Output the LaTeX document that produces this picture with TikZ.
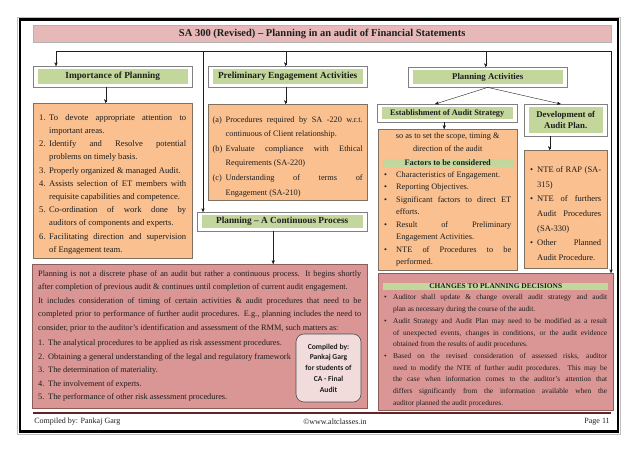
\documentclass[tikz,border=0pt]{standalone}
\usepackage{fontspec}
\setmainfont{Liberation Serif}
\newfontfamily\cmpfont{Carlito}
\usepackage{xcolor}
\usetikzlibrary{arrows}
\usetikzlibrary{calc}
\usetikzlibrary{positioning}

\definecolor{ordfill}{HTML}{FAC090}
\definecolor{orddraw}{HTML}{7F7060}
\definecolor{pinkfill}{HTML}{D99694}
\definecolor{pinkdraw}{HTML}{8C5C5B}
\definecolor{titlefill}{HTML}{E6B9B8}
\definecolor{hgreen}{HTML}{C3D69B}
\definecolor{hdrdraw}{HTML}{808080}
\definecolor{cmpfill}{HTML}{F2DCDB}
\definecolor{footrule}{HTML}{632523}
\definecolor{ink}{HTML}{1E1E1E}

\newlength{\itmind}
\newcommand{\itm}[2]{\par\noindent\hangindent=\itmind\hangafter=1\makebox[\itmind][l]{#1}#2}
\newcommand{\gbar}[2]{\par\noindent\makebox[\linewidth][c]{\setlength{\fboxsep}{1.5pt}\colorbox{hgreen}{\parbox{#1}{\centering\bfseries #2}}}\par}

\begin{document}
\begin{tikzpicture}[x=1pt,y=-1pt,>=stealth',semithick,text=ink]
	\tikzstyle{hdr}=[draw=hdrdraw, fill=white, thin, inner sep=0pt, font=\bfseries\fontsize{9.3}{11}\selectfont,
		path picture={\fill[hgreen] ([shift={(4.5pt,-3pt)}]path picture bounding box.north west) rectangle ([shift={(-4.5pt,3pt)}]path picture bounding box.south east);}]
	\tikzstyle{ttlbar}=[draw=hdrdraw!60, fill=titlefill, thin, inner sep=0pt, font=\bfseries\fontsize{10.5}{12}\selectfont]
	\tikzstyle{ordbox}=[draw=orddraw, fill=ordfill, thin, inner xsep=6pt, align=justify, anchor=north west]
	\tikzstyle{pinkbox}=[draw=pinkdraw, fill=pinkfill, thin, inner xsep=6pt, align=justify, anchor=north west]
	\tikzstyle{conn}=[->, draw=ink, thin]
	\useasboundingbox (0,0) rectangle (638,451);

	% frame
	\draw[gray!50, thin] (17.5,17) rectangle (620.5,434);
	\draw[line width=2.5pt] (20,19.5) rectangle (618,431.5);

	\node[ttlbar, minimum width=578, minimum height=17, anchor=north west] (ttl) at (33,25)
		{SA 300 (Revised) – Planning in an audit of Financial Statements};

	% left column
	\node[hdr, minimum width=159, minimum height=21, anchor=north west] (imp) at (33,66) {Importance of Planning};
	\node[ordbox, text width=147, minimum height=155, font=\fontsize{8.6}{13.2}\selectfont] (ord1) at (33,103) {%
		\setlength{\itmind}{10pt}%
		\itm{1.}{To devote appropriate attention to\linebreak important areas.}
		\itm{2.}{Identify and Resolve potential\linebreak problems on timely basis.}
		\itm{3.}{Properly organized \& managed Audit.}
		\itm{4.}{Assists selection of ET members with\linebreak requisite capabilities and competence.}
		\itm{5.}{Co-ordination of work done by\linebreak auditors of components and experts.}
		\itm{6.}{Facilitating direction and supervision\linebreak of Engagement team.}\par};

	% middle column
	\node[hdr, minimum width=159, minimum height=21, anchor=north west] (pre) at (208,66) {Preliminary Engagement Activities};
	\node[ordbox, text width=150, inner xsep=4.5pt, minimum height=93, font=\fontsize{8.3}{14.6}\selectfont] (ord2) at (208,104) {%
		\setlength{\itmind}{13pt}%
		\itm{(a)}{Procedures required by SA -220 w.r.t.\linebreak continuous of Client relationship.}
		\itm{(b)}{Evaluate compliance with Ethical\linebreak Requirements (SA-220)}
		\itm{(c)}{Understanding of terms of\linebreak Engagement (SA-210)}\par};
	\node[hdr, minimum width=170, minimum height=19, anchor=north west] (cnt) at (197,212) {Planning – A Continuous Process};

	% right column
	\node[hdr, minimum width=159, minimum height=20, font=\bfseries\fontsize{8.8}{11}\selectfont, anchor=north west] (pla) at (408,67) {Planning Activities};
	\node[hdr, minimum width=140, minimum height=18, font=\bfseries\fontsize{8.3}{10}\selectfont, anchor=north west] (est) at (377,104) {Establishment of Audit Strategy};
	\node[hdr, minimum width=83, minimum height=32, align=center, font=\bfseries\fontsize{8.8}{11}\selectfont, anchor=north west] (dev) at (524,104) {Development of\\Audit Plan.};
	\node[ordbox, text width=127, minimum height=141, font=\fontsize{8.3}{12.5}\selectfont] (ord3) at (378,129) {%
		\setlength{\itmind}{12pt}%
		{\centering\baselineskip=13pt so as to set the scope, timing \&\linebreak direction of the audit\par}
		\vspace{1pt}\gbar{127pt}{Factors to be considered}
		\itm{•}{Characteristics of Engagement.}
		\itm{•}{Reporting Objectives.}
		\itm{•}{Significant factors to direct ET\linebreak efforts.}
		\itm{•}{Result of Preliminary\linebreak Engagement Activities.}
		\itm{•}{NTE of Procedures to be\linebreak performed.}\par};
	\node[ordbox, text width=71, minimum height=118, font=\fontsize{8.5}{14.6}\selectfont] (ord4) at (524,150) {%
		\setlength{\itmind}{7pt}%
		\itm{•}{NTE of RAP (SA-\linebreak 315)}
		\itm{•}{NTE of furthers\linebreak Audit Procedures\linebreak (SA-330)}
		\itm{•}{Other Planned\linebreak Audit Procedure.}\par};

	% bottom boxes
	\node[pinkbox, text width=323, minimum height=144, font=\fontsize{8.3}{13.5}\selectfont] (big) at (32,264) {%
		\setlength{\itmind}{10pt}%
		\noindent Planning is not a discrete phase of an audit but rather a continuous process. It begins shortly\linebreak after completion of previous audit \& continues until completion of current audit engagement.\par
		\noindent It includes consideration of timing of certain activities \& audit procedures that need to be\linebreak completed prior to performance of further audit procedures. E.g., planning includes the need to\linebreak consider, prior to the auditor's identification and assessment of the RMM, such matters as:\par
		\vspace{2pt}
		\itm{1.}{The analytical procedures to be applied as risk assessment procedures.}
		\itm{2.}{Obtaining a general understanding of the legal and regulatory framework}
		\itm{3.}{The determination of materiality.}
		\itm{4.}{The involvement of experts.}
		\itm{5.}{The performance of other risk assessment procedures.}\par};
	\node[pinkbox, text width=223, minimum height=135, font=\fontsize{7.4}{11.7}\selectfont] (chg) at (378,273) {%
		\setlength{\itmind}{9pt}%
		\gbar{222pt}{CHANGES TO PLANNING DECISIONS}
		\itm{•}{Auditor shall update \& change overall audit strategy and audit\linebreak plan as necessary during the course of the audit.}
		\itm{•}{Audit Strategy and Audit Plan may need to be modified as a result\linebreak of unexpected events, changes in conditions, or the audit evidence\linebreak obtained from the results of audit procedures.}
		\itm{•}{Based on the revised consideration of assessed risks, auditor\linebreak need to modify the NTE of further audit procedures. This may be\linebreak the case when information comes to the auditor's attention that\linebreak differs significantly from the information available when the\linebreak auditor planned the audit procedures.}\par};
	\node[draw=ink!80, fill=cmpfill, semithick, rounded corners=8pt, minimum width=65, minimum height=68, align=center,
		font=\cmpfont\bfseries\fontsize{7.6}{10.7}\selectfont] (cmp) at (328.5,368)
		{Compiled by:\\Pankaj Garg\\for students of\\CA - Final\\Audit};

	% connectors
	\coordinate (tl) at (56,51);
	\coordinate (tr) at (611,51);
	\coordinate (tv) at (203,51);
	\draw[conn, -] (tl) -- (tr);
	\draw[conn] (tl) -- (tl |- imp.north);
	\draw[conn] (tv) -- (tv |- cnt.north);
	\draw[conn] (tr) -- (tr |- chg.north);
	\draw[conn] ([xshift=-2]pre.north |- tl) -- ([xshift=-2]pre.north);
	\draw[conn] ([xshift=-2]pla.north |- tl) -- ([xshift=-2]pla.north);
	\draw[conn] ([xshift=-7]imp.south) -- ([xshift=-7]imp.south |- ord1.north);
	\draw[conn] ([xshift=-2]pre.south) -- ([xshift=-2]pre.south |- ord2.north);
	\draw[conn] (pla.south) -- ([xshift=-12]est.north);
	\draw[conn] (pla.south) -- ([xshift=-5]dev.north);
	\draw[conn] ([xshift=-3]est.south) -- ([xshift=-3]est.south |- ord3.north);
	\draw[conn] ([xshift=-16]dev.south) -- ([xshift=-16]dev.south |- ord4.north);
	\draw[conn] ([xshift=-9]cnt.south) -- ([xshift=-9]cnt.south |- big.north);

	% footer
	\draw[footrule, line width=2.5pt] (33,413) -- (611,413);
	\node[anchor=west, inner sep=0pt, font=\fontsize{8}{10}\selectfont] (fl) at (34,422) {Compiled by: Pankaj Garg};
	\node[inner sep=0pt, font=\fontsize{8}{10}\selectfont] (fc) at (335,422) {©www.altclasses.in};
	\node[anchor=east, inner sep=0pt, font=\fontsize{8}{10}\selectfont] (fr) at (610,422) {Page 11};
\end{tikzpicture}
\end{document}
